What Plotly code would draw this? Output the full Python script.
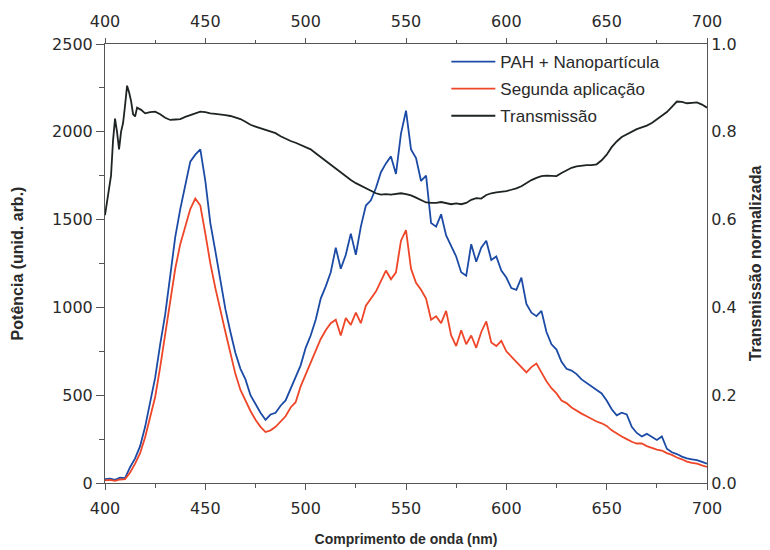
import numpy as np
import plotly.graph_objects as go

# Wavelength grid (nm) for emission spectra
wl = [400 + 2.5 * i for i in range(121)]

pah_nano = [22, 25, 18, 30, 28, 90, 140, 210, 320, 460,
            600, 790, 960, 1180, 1400, 1560, 1700, 1830, 1870, 1900,
            1720, 1480, 1320, 1150, 990, 860, 740, 650, 590, 500,
            450, 400, 360, 390, 400, 440, 470, 540, 600, 670,
            770, 840, 930, 1050, 1120, 1200, 1340, 1220, 1300, 1420,
            1300, 1460, 1580, 1610, 1680, 1770, 1820, 1860, 1760, 1990,
            2120, 1900, 1850, 1720, 1750, 1480, 1460, 1530, 1410, 1350,
            1290, 1200, 1180, 1360, 1260, 1340, 1380, 1270, 1290, 1210,
            1170, 1110, 1100, 1170, 1020, 970, 950, 980, 860, 790,
            760, 690, 650, 640, 620, 590, 570, 545, 525, 510,
            470, 420, 385, 400, 390, 320, 285, 265, 280, 260,
            245, 265, 195, 175, 165, 150, 140, 135, 130, 120,
            110]

segunda = [15, 18, 12, 20, 22, 60, 110, 170, 260, 370,
           490, 660, 850, 1050, 1220, 1360, 1460, 1560, 1620, 1580,
           1420, 1250, 1110, 980, 860, 740, 620, 530, 470, 410,
           360, 320, 290, 300, 320, 350, 380, 430, 460, 550,
           620, 680, 750, 820, 870, 910, 930, 840, 940, 900,
           970, 910, 1010, 1050, 1090, 1150, 1210, 1160, 1200, 1380,
           1440, 1220, 1140, 1100, 1050, 930, 950, 910, 980, 840,
           780, 870, 790, 840, 770, 860, 920, 800, 780, 810,
           750, 720, 690, 665, 630, 660, 680, 630, 580, 540,
           510, 470, 455, 430, 410, 395, 380, 365, 350, 340,
           325, 300, 280, 265, 250, 235, 225, 225, 210, 200,
           190, 185, 170, 160, 145, 135, 122, 115, 110, 100,
           92]

# Transmission (normalized) with its own wavelength points
wl_trans = [400, 401, 402, 403, 404, 405, 406, 407, 408, 409, 410, 411, 412, 413, 414,
            415, 416, 418, 420] + [422.5 + 2.5 * i for i in range(112)]
transmissao = [0.61, 0.64, 0.66, 0.70, 0.78, 0.83, 0.80, 0.76, 0.80, 0.82,
               0.86, 0.905, 0.89, 0.87, 0.84, 0.835, 0.855, 0.85, 0.842,
               0.845, 0.846, 0.840, 0.832, 0.827, 0.828, 0.829, 0.834, 0.838, 0.842,
               0.846, 0.845, 0.842, 0.841, 0.840, 0.838, 0.836, 0.833, 0.829, 0.823,
               0.816, 0.812, 0.808, 0.804, 0.800, 0.797, 0.790, 0.784, 0.779, 0.775,
               0.770, 0.766, 0.760, 0.751, 0.742, 0.733, 0.724, 0.716, 0.708, 0.699,
               0.690, 0.683, 0.677, 0.671, 0.665, 0.660, 0.657, 0.658, 0.657, 0.659,
               0.660, 0.658, 0.655, 0.650, 0.644, 0.639, 0.638, 0.638, 0.640, 0.637,
               0.635, 0.637, 0.635, 0.638, 0.645, 0.649, 0.648, 0.656, 0.660, 0.662,
               0.663, 0.665, 0.668, 0.671, 0.676, 0.683, 0.690, 0.695, 0.699, 0.700,
               0.700, 0.699, 0.706, 0.712, 0.718, 0.721, 0.723, 0.724, 0.724, 0.726,
               0.735, 0.748, 0.765, 0.778, 0.788, 0.794, 0.800, 0.806, 0.810, 0.814,
               0.820, 0.828, 0.835, 0.845, 0.857, 0.869, 0.868, 0.865, 0.866, 0.867,
               0.862, 0.855]

x_ticks = [400, 450, 500, 550, 600, 650, 700]
y_ticks = [0, 500, 1000, 1500, 2000, 2500]
y2_ticks = [0.0, 0.2, 0.4, 0.6, 0.8, 1.0]
y2_labels = ["0.0", "0.2", "0.4", "0.6", "0.8", "1.0"]

TICKFONT = dict(family="DejaVu Sans, sans-serif", size=16, color="#2a2a2a")
TITLEFONT = "Liberation Sans, Arial, sans-serif"
AX = "#555555"
TXT = "#2a2a2a"

fig = go.Figure()
fig.add_trace(go.Scatter(x=wl, y=pah_nano, mode="lines", name="PAH + Nanopartícula",
                         legendgroup="a",
                         line=dict(color="#1c4ba6", width=1.8)))
fig.add_trace(go.Scatter(x=wl, y=segunda, mode="lines", name="Segunda aplicação",
                         legendgroup="b",
                         line=dict(color="#ee4628", width=1.8)))
fig.add_trace(go.Scatter(x=wl_trans, y=transmissao, mode="lines", name="Transmissão",
                         legendgroup="c", xaxis="x2", yaxis="y2",
                         line=dict(color="#1e2424", width=1.8)))

# page body has an 8px default margin, so the figure is shifted by 8px
fig.update_layout(
    width=762, height=542,
    margin=dict(l=97, r=63, t=36, b=67),
    paper_bgcolor="white", plot_bgcolor="white",
    font=dict(family=TITLEFONT, size=15, color=TXT),
    showlegend=True,
    legend=dict(x=0.567, y=1.0, xanchor="left", yanchor="top",
                bgcolor="rgba(0,0,0,0)", borderwidth=0,
                font=dict(family=TITLEFONT, size=17, color=TXT),
                itemwidth=44,
                traceorder="grouped", tracegroupgap=2),
    xaxis=dict(range=[400, 700], tickvals=x_ticks, ticks="outside", ticklen=6,
               tickcolor=AX, showline=True, linecolor=AX, linewidth=1,
               showgrid=False, zeroline=False, automargin=False, tickfont=TICKFONT,
               ticklabelstandoff=5,
               minor=dict(ticks="outside", ticklen=4, dtick=25, tickcolor=AX, showgrid=False),
               title=dict(text="<b>Comprimento de onda (nm)</b>", font=dict(size=14), standoff=16)),
    xaxis2=dict(range=[400, 700], tickvals=x_ticks, ticks="outside", ticklen=5,
                tickcolor=AX, showline=True, linecolor=AX, linewidth=1,
                showgrid=False, zeroline=False, overlaying="x", side="top", anchor="y",
                automargin=False, tickfont=TICKFONT, ticklabelstandoff=5,
                minor=dict(ticks="outside", ticklen=3, dtick=25, tickcolor=AX, showgrid=False)),
    yaxis=dict(range=[0, 2500], tickvals=y_ticks, ticks="outside", ticklen=8,
               tickcolor=AX, showline=True, linecolor=AX, linewidth=1,
               showgrid=False, zeroline=False, automargin=False, tickfont=TICKFONT,
               minor=dict(ticks="outside", ticklen=5, dtick=250, tickcolor=AX, showgrid=False),
               title=dict(text="<b>Potência (unid. arb.)</b>", font=dict(size=16), standoff=24)),
    yaxis2=dict(range=[0, 1.0], tickvals=y2_ticks, ticktext=y2_labels, ticks="", ticklen=0,
                showline=True, linecolor=AX, linewidth=1, showgrid=False, zeroline=False,
                overlaying="y", side="right", anchor="x", automargin=False, tickfont=TICKFONT,
                title=dict(text="<b>Transmissão normalizada</b>", font=dict(size=16), standoff=14)),
)

fig.write_html("out.html")
